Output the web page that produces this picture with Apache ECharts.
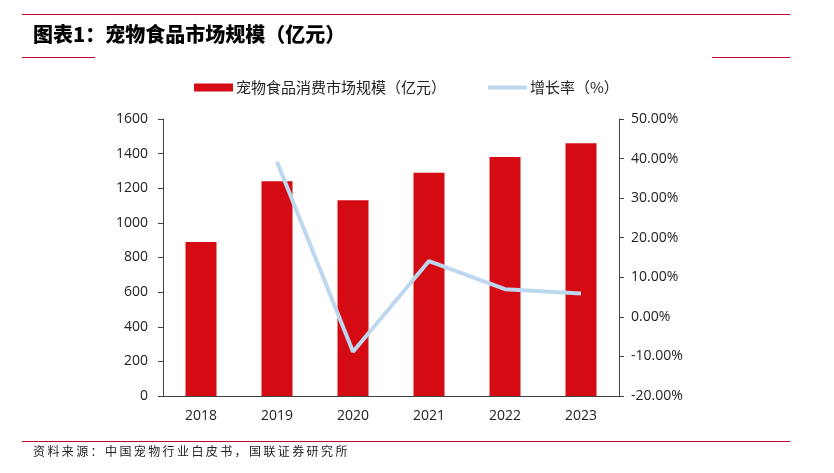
<!DOCTYPE html>
<html><head><meta charset="utf-8">
<script src="https://cdn.jsdelivr.net/npm/echarts@6/dist/echarts.min.js"></script>
<style>html,body{margin:0;padding:0;background:#fff}#c{width:834px;height:473px}</style>
</head><body><div id="c"></div>
<script>
const categories = ['2018','2019','2020','2021','2022','2023'];
const marketSize = [890, 1240, 1130, 1290, 1380, 1460];
const growthRate = [null, 39.2, -8.8, 14.1, 7.0, 5.9];
const leftTicks = [0, 1600, 200];
const rightTicks = [-20, 50, 10];

const chart = echarts.init(document.getElementById('c'), null, {renderer:'canvas'});
const font = '"Open Sans","Noto Sans CJK SC",sans-serif';
const red = '#C4002F';
const sourceText = '资料来源：中国宠物行业白皮书，国联证券研究所'.split('').join('\u2009');
chart.setOption({
  animation:false,
  textStyle:{fontFamily:font},
  graphic:[
    {type:'line', shape:{x1:22,y1:14.5,x2:790,y2:14.5}, style:{stroke:red,lineWidth:1}},
    {type:'text', left:33, top:24, style:{text:'图表1：宠物食品市场规模（亿元）', font:'900 20px "Noto Sans CJK SC",sans-serif', fill:'#000'}},
    {type:'line', shape:{x1:22,y1:57.5,x2:95,y2:57.5}, style:{stroke:red,lineWidth:1}},
    {type:'line', shape:{x1:712,y1:57.5,x2:790,y2:57.5}, style:{stroke:red,lineWidth:1}},
    {type:'line', shape:{x1:22,y1:441.5,x2:790,y2:441.5}, style:{stroke:red,lineWidth:1}},
    {type:'text', left:33, top:445, style:{text:sourceText, font:'12px "Noto Sans CJK SC",sans-serif', fill:'#222'}}
  ],
  legend:{
    top:75, left:189, itemGap:40, itemWidth:39, itemHeight:8,
    textStyle:{fontSize:15, color:'#222', fontFamily:'"Noto Sans CJK SC",sans-serif', padding:[0,0,0,-2]},
    data:[
      {name:'宠物食品消费市场规模（亿元）', icon:'rect'},
      {name:'增长率（%）', itemStyle:{opacity:0}, lineStyle:{width:4, color:'#BDD7EE'}}
    ]
  },
  grid:{left:163, right:215, top:119, bottom:77, containLabel:false},
  xAxis:{
    type:'category', data:categories,
    axisLine:{lineStyle:{color:'#444'}},
    axisTick:{show:false},
    axisLabel:{fontSize:14, color:'#222', margin:13}
  },
  yAxis:[
    {type:'value', min:leftTicks[0], max:leftTicks[1], interval:leftTicks[2],
     axisLine:{show:true, lineStyle:{color:'#444'}},
     axisTick:{show:true, length:5, lineStyle:{color:'#444'}},
     splitLine:{show:false},
     axisLabel:{fontSize:14, color:'#222', margin:15, formatter:v=>String(v)}},
    {type:'value', min:rightTicks[0], max:rightTicks[1], interval:rightTicks[2], position:'right',
     axisLine:{show:true, lineStyle:{color:'#444'}},
     axisTick:{show:true, length:5, lineStyle:{color:'#444'}},
     splitLine:{show:false},
     axisLabel:{fontSize:14, color:'#222', margin:12, formatter:v=>v.toFixed(2)+'%'}}
  ],
  series:[
    {name:'宠物食品消费市场规模（亿元）', type:'bar', data:marketSize, barWidth:31,
     itemStyle:{color:'#D40B13'}},
    {name:'增长率（%）', type:'line', yAxisIndex:1, data:growthRate, symbol:'none',
     lineStyle:{color:'#BDD7EE', width:4}, itemStyle:{color:'#BDD7EE'}}
  ]
});
</script></body></html>
